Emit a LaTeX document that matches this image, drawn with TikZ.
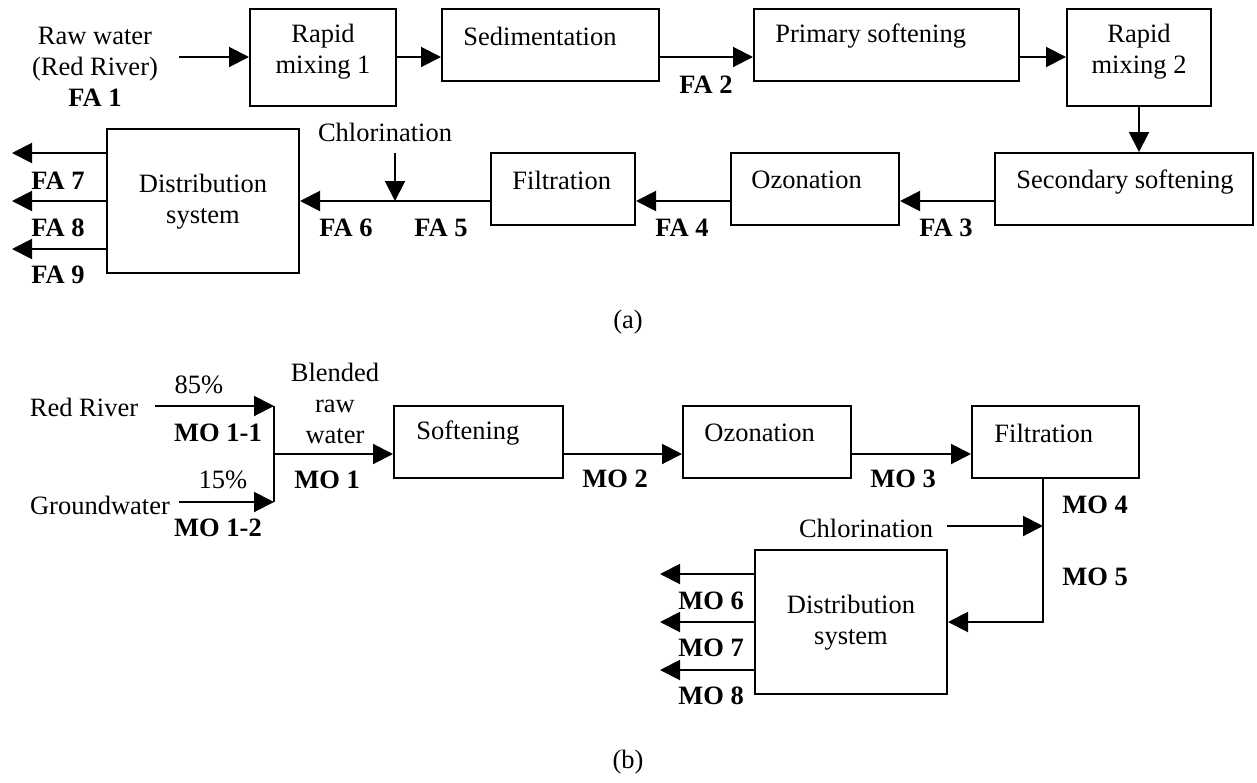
\documentclass[tikz,border=0pt]{standalone}
\usepackage{fontspec}
\setmainfont{Liberation Serif}
\usetikzlibrary{arrows.meta}
\begin{document}
\begin{tikzpicture}[x=0.5pt,y=-0.5pt,
  every node/.style={font=\fontsize{13.25}{15.5}\selectfont, inner sep=0pt, align=center},
  box/.style 2 args={draw, line width=1pt, minimum width=#1*0.5pt, minimum height=#2*0.5pt},
  lbl/.style={font=\fontsize{13.25}{15.5}\selectfont\bfseries},
  arr/.style={line width=1pt, -{Triangle[length=10pt,width=10pt]}},
  ln/.style={line width=1pt}]
\useasboundingbox (0,0) rectangle (1257,782);

% ---------- (a) ----------
\node[box={146}{97}] (rm1) at (323,57.5) {};
\node[box={217}{72}] (sed) at (550.5,45) {};
\node[box={265}{72}] (prim) at (886.5,45) {};
\node[box={144}{97}] (rm2) at (1139,57.5) {};
\node[box={258}{72}] (sec) at (1124,189) {};
\node[box={168}{72}] (ozo) at (815,189) {};
\node[box={144}{72}] (filt) at (563,189) {};
\node[box={192}{144}] (dist) at (203,201) {};

\node (raw) at (95,67) {Raw water\\(Red River)\\\textbf{FA 1}};
\node (trm1) at (323,52) {Rapid\\mixing 1};
\node[anchor=west] (tsed) at (463,36) {Sedimentation};
\node[anchor=west] (tprim) at (775,36) {Primary softening};
\node (trm2) at (1139,52) {Rapid\\mixing 2};
\node[anchor=west] (tsec) at (1016,182) {Secondary softening};
\node[anchor=west] (tozo) at (751,180) {Ozonation};
\node[anchor=west] (tfilt) at (512,180) {Filtration};
\node (tdist) at (203,202) {Distribution\\system};
\node (chl) at (385,132) {Chlorination};

\node[lbl] (fa2) at (706,85) {FA 2};
\node[lbl] (fa3) at (946,228) {FA 3};
\node[lbl] (fa4) at (682,228) {FA 4};
\node[lbl] (fa5) at (441,228) {FA 5};
\node[lbl] (fa6) at (346,228) {FA 6};
\node[lbl] (fa7) at (58,181) {FA 7};
\node[lbl] (fa8) at (58,228) {FA 8};
\node[lbl] (fa9) at (58,275) {FA 9};
\node (capa) at (628,322) {(a)};

\coordinate (rawpt) at (179,57);
\coordinate (l1) at (0,57);
\coordinate (l2) at (0,201);
\coordinate (chlpt) at (395,153);
\coordinate (o7) at (12,153);
\coordinate (o8) at (12,201);
\coordinate (o9) at (12,249);

\draw[arr] (rawpt) -- (rawpt -| rm1.west);
\draw[arr] (rm1.east |- l1) -- (sed.west |- l1);
\draw[arr] (sed.east |- l1) -- (prim.west |- l1);
\draw[arr] (prim.east |- l1) -- (rm2.west |- l1);
\draw[arr] (rm2.south) -- (rm2.south |- sec.north);
\draw[arr] (sec.west |- l2) -- (ozo.east |- l2);
\draw[arr] (ozo.west |- l2) -- (filt.east |- l2);
\draw[arr] (filt.west |- l2) -- (dist.east |- l2);
\draw[arr] (chlpt) -- (chlpt |- l2);
\draw[arr] (dist.west |- o7) -- (o7);
\draw[arr] (dist.west |- o8) -- (o8);
\draw[arr] (dist.west |- o9) -- (o9);

% ---------- (b) ----------
\node[box={169}{72}] (soft) at (478.5,442) {};
\node[box={168}{72}] (ozo2) at (767,442) {};
\node[box={167}{72}] (filt2) at (1055.5,442) {};
\node[box={192}{144}] (dist2) at (851,622) {};

\node (rr) at (84,407) {Red River};
\node (p85) at (199,385) {85\%};
\node[lbl] (mo11) at (218,433) {MO 1-1};
\node (p15) at (223,480) {15\%};
\node (gw) at (100,505) {Groundwater};
\node[lbl] (mo12) at (218,528) {MO 1-2};
\node (blend) at (335,403) {Blended\\raw\\water};
\node[lbl] (mo1) at (327,480) {MO 1};
\node[anchor=west] (tsoft) at (416,433) {Softening};
\node[anchor=west] (tozo2) at (704,433) {Ozonation};
\node[anchor=west] (tfilt2) at (994,433) {Filtration};
\node[lbl] (mo2) at (615,479) {MO 2};
\node[lbl] (mo3) at (903,479) {MO 3};
\node[lbl] (mo4) at (1095,505) {MO 4};
\node[lbl] (mo5) at (1095,577) {MO 5};
\node (chl2) at (866,528) {Chlorination};
\node (tdist2) at (851,623) {Distribution\\system};
\node[lbl] (mo6) at (711,601) {MO 6};
\node[lbl] (mo7) at (711,648) {MO 7};
\node[lbl] (mo8) at (711,696) {MO 8};
\node (capb) at (628,762) {(b)};

\coordinate (rrpt) at (155,406);
\coordinate (gwpt) at (179,502);
\coordinate (jn) at (274,454);
\coordinate (l3) at (0,454);
\coordinate (v) at (1043,622);
\coordinate (cb) at (947,526);
\coordinate (m6) at (660,574);
\coordinate (m7) at (660,622);
\coordinate (m8) at (660,670);

\draw[arr] (rrpt) -- (rrpt -| jn);
\draw[arr] (gwpt) -- (gwpt -| jn);
\draw[ln] (rrpt -| jn) -- (gwpt -| jn);
\draw[arr] (jn) -- (jn -| soft.west);
\draw[arr] (soft.east |- l3) -- (ozo2.west |- l3);
\draw[arr] (ozo2.east |- l3) -- (filt2.west |- l3);
\draw[arr] (filt2.south -| v) -- (v) -- (dist2.east);
\draw[arr] (cb) -- (cb -| v);
\draw[arr] (dist2.west |- m6) -- (m6);
\draw[arr] (dist2.west |- m7) -- (m7);
\draw[arr] (dist2.west |- m8) -- (m8);
\end{tikzpicture}
\end{document}
